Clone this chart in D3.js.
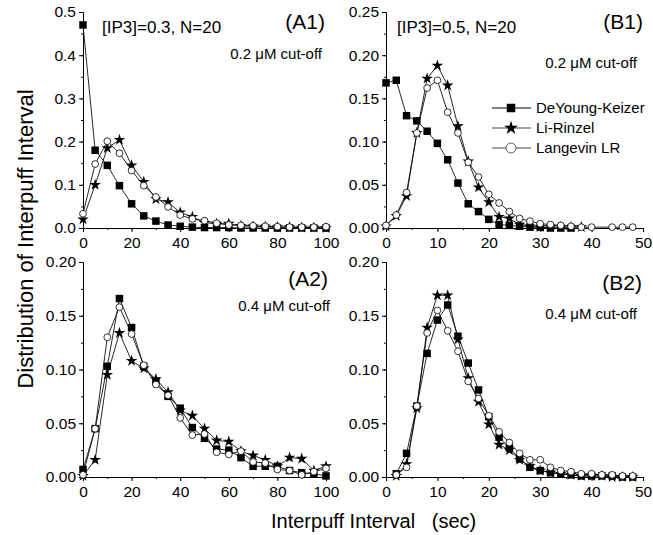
<!DOCTYPE html>
<html>
<head>
<meta charset="utf-8">
<script src="https://cdn.jsdelivr.net/npm/d3@7"></script>
<style>
  body { margin: 0; background: #fff; }
  svg text { font-family: "Liberation Sans", Arial, sans-serif; fill: #000; }
</style>
</head>
<body>
<svg id="chart" width="653" height="535"></svg>
<script>
// ---- data ----
var seriesNames = ["DeYoung-Keizer", "Li-Rinzel", "Langevin LR"];

// (A1) [IP3]=0.3, 0.2 uM cut-off
var xA = [0, 5, 10, 15, 20, 25, 30, 35, 40, 45, 50, 55, 60, 65, 70, 75, 80, 85, 90, 95, 100];
var a1Dyk  = [0.470, 0.180, 0.145, 0.098, 0.056, 0.028, 0.016, 0.007, 0.004, 0.002, 0.001, 0.001, 0.001, 0.000, 0.000, 0.000, 0.000, 0.000, 0.000, 0.000, 0.000];
var a1Lr   = [0.020, 0.100, 0.185, 0.204, 0.145, 0.107, 0.067, 0.060, 0.036, 0.026, 0.012, 0.010, 0.010, 0.005, 0.004, 0.003, 0.002, 0.002, 0.001, 0.001, 0.000];
var a1Lang = [0.033, 0.148, 0.201, 0.173, 0.133, 0.098, 0.072, 0.049, 0.030, 0.021, 0.017, 0.011, 0.007, 0.006, 0.005, 0.004, 0.003, 0.002, 0.002, 0.002, 0.003];

// (A2) 0.4 uM cut-off
var a2Dyk  = [0.007, 0.045, 0.103, 0.166, 0.139, 0.103, 0.089, 0.075, 0.064, 0.046, 0.036, 0.026, 0.025, 0.018, 0.010, 0.010, 0.010, 0.006, 0.004, 0.003, 0.001];
var a2Lr   = [0.001, 0.016, 0.095, 0.134, 0.108, 0.101, 0.091, 0.079, 0.062, 0.057, 0.045, 0.034, 0.033, 0.024, 0.020, 0.016, 0.010, 0.018, 0.017, 0.006, 0.010];
var a2Lang = [0.002, 0.045, 0.130, 0.158, 0.133, 0.104, 0.086, 0.076, 0.055, 0.039, 0.040, 0.023, 0.021, 0.024, 0.014, 0.013, 0.007, 0.006, 0.002, 0.005, 0.008];

// (B1) [IP3]=0.5, 0.2 uM cut-off  (null = no point)
var xB1 = [0, 2, 4, 6, 8, 10, 12, 14, 16, 18, 20, 22, 24, 26, 28, 30, 32, 34, 36, 38, 40, 42, 44, 46, 48];
var b1Dyk  = [0.168, 0.171, 0.130, 0.124, 0.112, 0.098, 0.079, 0.052, 0.028, 0.019, 0.010, 0.004, 0.003, 0.002, 0.001, 0.001, 0.000, 0.000, 0.000, null, null, null, null, null, null];
var b1Lr   = [0.002, 0.014, 0.037, 0.110, 0.173, 0.188, 0.165, 0.118, 0.077, 0.047, 0.030, 0.013, 0.011, 0.004, 0.002, 0.001, 0.001, 0.001, 0.001, 0.001, null, null, null, null, null];
var b1Lang = [0.003, 0.015, 0.041, 0.110, 0.162, 0.171, 0.134, 0.110, 0.076, 0.059, 0.039, 0.029, 0.019, 0.011, 0.008, 0.005, 0.004, 0.003, 0.002, 0.001, 0.001, null, 0.001, 0.001, 0.001];

// (B2) 0.4 uM cut-off
var xB2 = [2, 4, 6, 8, 10, 12, 14, 16, 18, 20, 22, 24, 26, 28, 30, 32, 34, 36, 38, 40, 42, 44, 46, 48];
var b2Dyk  = [0.003, 0.022, 0.066, 0.115, 0.146, 0.160, 0.131, 0.106, 0.081, 0.056, 0.037, 0.027, 0.017, 0.009, 0.006, 0.004, 0.003, 0.002, 0.001, 0.001, 0.001, 0.001, 0.000, 0.000];
var b2Lr   = [0.001, 0.012, 0.064, 0.139, 0.169, 0.169, 0.128, 0.092, 0.070, 0.049, 0.030, 0.025, 0.016, 0.010, 0.006, 0.004, 0.003, 0.002, 0.001, 0.001, 0.001, 0.000, 0.000, 0.000];
var b2Lang = [0.002, 0.009, 0.066, 0.134, 0.155, 0.136, 0.117, 0.089, 0.073, 0.057, 0.042, 0.032, 0.022, 0.016, 0.016, 0.009, 0.006, 0.005, 0.003, 0.003, 0.002, 0.002, 0.001, 0.001];

// tick labels
var xTicksA = [0, 20, 40, 60, 80, 100];
var xTicksB = [0, 10, 20, 30, 40, 50];
var yTicksA1 = [0, 0.1, 0.2, 0.3, 0.4, 0.5];
var yTicksB1 = [0, 0.05, 0.10, 0.15, 0.20, 0.25];
var yTicks2 = [0, 0.05, 0.10, 0.15, 0.20];

var svg = d3.select("#chart");

var panels = [
  { id: "A1", left: 83, right: 326, top: 12, bottom: 228, xDom: [0, 100], yDom: [0, 0.5],
    xTicks: xTicksA, xMinorStep: 10, yTicks: yTicksA1, yMinorStep: 0.05, yFmt: ".1f",
    x: xA, series: [a1Dyk, a1Lr, a1Lang] },
  { id: "B1", left: 386, right: 643, top: 12, bottom: 228, xDom: [0, 50], yDom: [0, 0.25],
    xTicks: xTicksB, xMinorStep: 5, yTicks: yTicksB1, yMinorStep: 0.025, yFmt: ".2f",
    x: xB1, series: [b1Dyk, b1Lr, b1Lang] },
  { id: "A2", left: 83, right: 326, top: 262, bottom: 477, xDom: [0, 100], yDom: [0, 0.2],
    xTicks: xTicksA, xMinorStep: 10, yTicks: yTicks2, yMinorStep: 0.025, yFmt: ".2f",
    x: xA, series: [a2Dyk, a2Lr, a2Lang] },
  { id: "B2", left: 386, right: 643, top: 262, bottom: 477, xDom: [0, 50], yDom: [0, 0.2],
    xTicks: xTicksB, xMinorStep: 5, yTicks: yTicks2, yMinorStep: 0.025, yFmt: ".2f",
    x: xB2, series: [b2Dyk, b2Lr, b2Lang] }
];

var squareSym = d3.symbol().type(d3.symbolSquare).size(56);
var starSym = d3.symbol().type(d3.symbolStar).size(42);

function minorValues(dom, step) {
  var out = [];
  var n = Math.round((dom[1] - dom[0]) / step);
  for (var i = 0; i <= n; i++) out.push(dom[0] + i * step);
  return out;
}

function drawMarkers(g, pts, kind, x, y) {
  var sel = g.selectAll(null).data(pts).enter();
  if (kind === 0) {
    sel.append("path").attr("d", squareSym)
      .attr("transform", function (d) { return "translate(" + x(d[0]) + "," + y(d[1]) + ")"; })
      .attr("fill", "#000");
  } else if (kind === 1) {
    sel.append("path").attr("d", starSym)
      .attr("transform", function (d) { return "translate(" + x(d[0]) + "," + y(d[1]) + ")"; })
      .attr("fill", "#000");
  } else {
    sel.append("circle").attr("cx", function (d) { return x(d[0]); })
      .attr("cy", function (d) { return y(d[1]); })
      .attr("r", 3.4).attr("fill", "#fff").attr("stroke", "#000").attr("stroke-width", 0.8);
  }
}

panels.forEach(function (p) {
  var x = d3.scaleLinear().domain(p.xDom).range([p.left, p.right]);
  var y = d3.scaleLinear().domain(p.yDom).range([p.bottom, p.top]);
  var g = svg.append("g").attr("class", "panel-" + p.id);

  // minor ticks
  g.append("g").attr("transform", "translate(0," + p.bottom + ")")
    .call(d3.axisBottom(x).tickValues(minorValues(p.xDom, p.xMinorStep)).tickSize(2).tickSizeOuter(0).tickFormat(""));
  g.append("g").attr("transform", "translate(" + p.left + ",0)")
    .call(d3.axisLeft(y).tickValues(minorValues(p.yDom, p.yMinorStep)).tickSize(2).tickSizeOuter(0).tickFormat(""));

  // major ticks
  g.append("g").attr("transform", "translate(0," + p.bottom + ")")
    .call(d3.axisBottom(x).tickValues(p.xTicks).tickSize(4).tickSizeOuter(0).tickPadding(5).tickFormat(d3.format("d")));
  g.append("g").attr("transform", "translate(" + p.left + ",0)")
    .call(d3.axisLeft(y).tickValues(p.yTicks).tickSize(4).tickSizeOuter(0).tickPadding(3).tickFormat(d3.format(p.yFmt)));
  g.selectAll(".tick text").attr("font-size", 15.5).attr("font-family", "Liberation Sans, Arial, sans-serif");
  g.selectAll(".domain, .tick line").attr("stroke", "#000");

  // series: lines first, then markers (squares, stars, circles on top)
  var line = d3.line().x(function (d) { return x(d[0]); }).y(function (d) { return y(d[1]); });
  var ptsAll = p.series.map(function (vals) {
    return p.x.map(function (xv, i) { return [xv, vals[i]]; })
      .filter(function (d) { return d[1] !== null && d[1] !== undefined; });
  });
  ptsAll.forEach(function (pts) {
    g.append("path").datum(pts).attr("d", line)
      .attr("fill", "none").attr("stroke", "#111").attr("stroke-width", 0.9);
  });
  ptsAll.forEach(function (pts, k) { drawMarkers(g, pts, k, x, y); });
});

// ---- annotations ----
function label(txt, xPos, yPos, size, anchor) {
  svg.append("text").attr("x", xPos).attr("y", yPos)
    .attr("font-size", size).attr("text-anchor", anchor || "start").text(txt);
}
label("(A1)", 325, 29, 21, "end");
label("(B1)", 643, 29, 21, "end");
label("(A2)", 328, 286, 21, "end");
label("(B2)", 642, 290, 21, "end");
label("[IP3]=0.3, N=20", 102, 33, 17);
label("[IP3]=0.5, N=20", 397, 33, 17);
label("0.2 \u03bcM cut-off", 322, 59, 15, "end");
label("0.2 \u03bcM cut-off", 637, 68, 15, "end");
label("0.4 \u03bcM cut-off", 330, 311, 15, "end");
label("0.4 \u03bcM cut-off", 637, 319, 15, "end");

// legend (in B1)
var legend = svg.append("g");
seriesNames.forEach(function (name, k) {
  var ly = 108 + k * 20;
  legend.append("line").attr("x1", 492).attr("x2", 531).attr("y1", ly).attr("y2", ly)
    .attr("stroke", k === 0 ? "#000" : "#444").attr("stroke-width", 1);
  if (k === 0) {
    legend.append("path").attr("d", d3.symbol().type(d3.symbolSquare).size(72))
      .attr("transform", "translate(511," + ly + ")").attr("fill", "#000");
  } else if (k === 1) {
    legend.append("path").attr("d", d3.symbol().type(d3.symbolStar).size(60))
      .attr("transform", "translate(511," + ly + ")").attr("fill", "#000");
  } else {
    legend.append("circle").attr("cx", 511).attr("cy", ly).attr("r", 5)
      .attr("fill", "#fff").attr("stroke", "#333").attr("stroke-width", 0.8);
  }
  legend.append("text").attr("x", 536).attr("y", ly + 5).attr("font-size", 15).text(name);
});

// axis titles
svg.append("text").attr("transform", "translate(33,239) rotate(-90)")
  .attr("text-anchor", "middle").attr("font-size", 22).text("Distribution of Interpuff Interval");
svg.append("text").attr("x", 271).attr("y", 528).attr("font-size", 20)
  .style("white-space", "pre").text("Interpuff Interval   (sec)");
</script>
</body>
</html>
